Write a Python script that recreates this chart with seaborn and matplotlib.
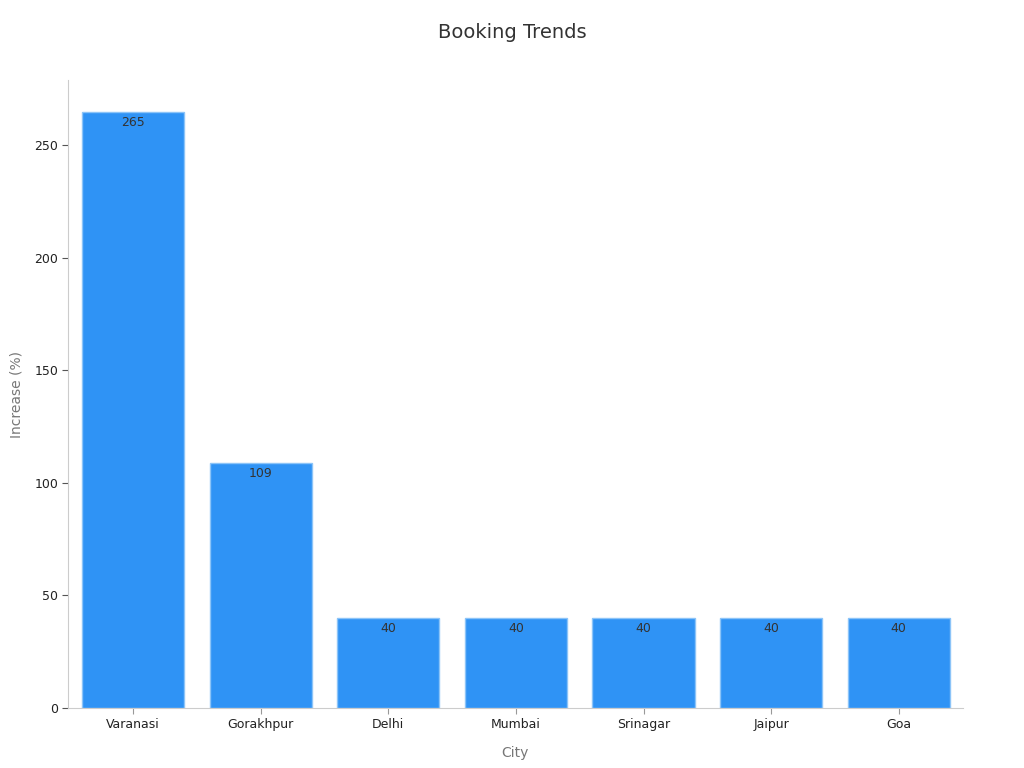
import matplotlib
matplotlib.use("Agg")
import matplotlib.pyplot as plt
import seaborn as sns
import pandas as pd

cities = ["Varanasi", "Gorakhpur", "Delhi", "Mumbai", "Srinagar", "Jaipur", "Goa"]
increase = [265, 109, 40, 40, 40, 40, 40]

sns.set_theme(style="white")
plt.rcParams["font.family"] = ["DejaVu Sans"]

df = pd.DataFrame({"City": cities, "Increase": increase})

fig = plt.figure(figsize=(10.24, 7.68), dpi=100)
ax = fig.add_axes([0.0664, 0.0781, 0.8736, 0.8177])
sns.barplot(data=df, x="City", y="Increase", color="#2F93F5", saturation=1,
            width=0.8, edgecolor="#8CC4F8", linewidth=1, ax=ax)

for p, v in zip(ax.patches, increase):
    ax.annotate(f"{v}", (p.get_x() + p.get_width() / 2, p.get_height()),
                xytext=(0, -3), textcoords="offset points", ha="center", va="top",
                fontsize=9, color="#333333")

ax.set_xlim(-0.51, 6.5)
ax.set_ylim(0, 279)
ax.set_yticks([0, 50, 100, 150, 200, 250])
ax.tick_params(axis="both", labelsize=9, labelcolor="#222222", length=4, width=0.8,
               bottom=True, left=True, pad=3)
ax.tick_params(axis="x", color="#999999")
ax.tick_params(axis="y", color="#555555")
ax.set_xlabel("City", fontsize=10, color="#777777", labelpad=11)
ax.set_ylabel("Increase (%)", fontsize=10, color="#777777", labelpad=8)
for s in ["top", "right"]:
    ax.spines[s].set_visible(False)
for s in ["left", "bottom"]:
    ax.spines[s].set_color("#cccccc")
    ax.spines[s].set_linewidth(0.8)
fig.suptitle("Booking Trends", fontsize=14, color="#333333", y=0.97)

fig.savefig("out.png", dpi=100)
